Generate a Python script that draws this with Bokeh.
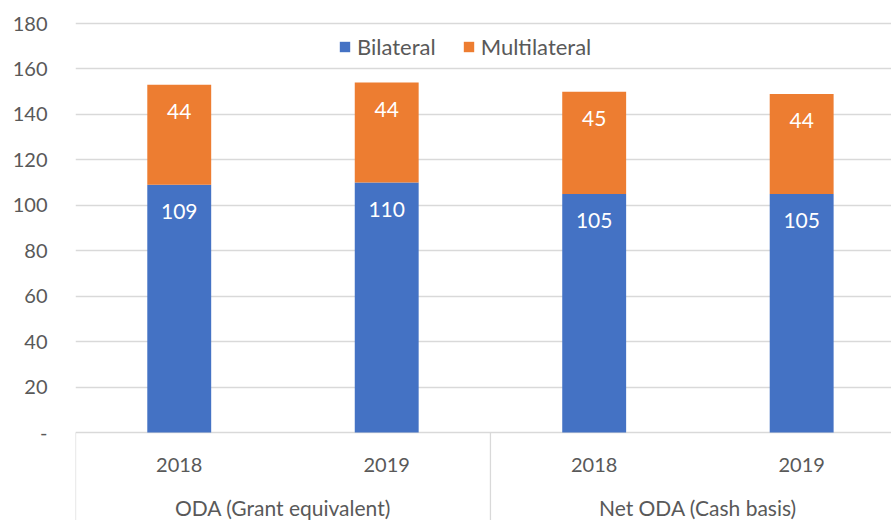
from bokeh.plotting import figure
from bokeh.models import (ColumnDataSource, Range1d, FixedTicker, Legend, LegendItem,
                          LinearAxis)
from bokeh.core.properties import value
from bokeh.embed import file_html
from bokeh.resources import INLINE

# ---- data ----
groups = ["ODA (Grant equivalent)", "Net ODA (Cash basis)"]
group_sizes = [2, 2]
years = ["2018", "2019", "2018", "2019"]
bilateral = [109, 110, 105, 105]
multilateral = [44, 44, 45, 44]
series = ["Bilateral", "Multilateral"]
colors = ["#4472C4", "#ED7D31"]
y_ticks = [0, 20, 40, 60, 80, 100, 120, 140, 160, 180]

FONT = "Lato"
TXT = "#595959"

x = [i + 0.5 for i in range(len(years))]
totals = [b + m for b, m in zip(bilateral, multilateral)]
src = ColumnDataSource(dict(x=x, Bilateral=bilateral, Multilateral=multilateral,
                            total=totals, year=years,
                            blab=[str(v) for v in bilateral],
                            mlab=[str(v) for v in multilateral]))

p = figure(width=891, height=520, output_backend="svg", toolbar_location=None,
           x_range=Range1d(0, 3.933), y_range=Range1d(-38.73, 190.13),
           min_border_left=75, min_border_right=0, min_border_top=0, min_border_bottom=0,
           x_axis_location=None, y_axis_location=None)
p.outline_line_color = None
p.background_fill_color = "white"

yaxis = LinearAxis(ticker=FixedTicker(ticks=y_ticks))
yaxis.axis_line_color = None
yaxis.major_tick_line_color = None
yaxis.minor_tick_line_color = None
yaxis.major_tick_out = 0
yaxis.major_label_standoff = 28
yaxis.major_label_text_font = FONT
yaxis.major_label_text_font_size = "20px"
yaxis.major_label_text_color = TXT
yaxis.major_label_overrides = {0: "-"}
p.add_layout(yaxis, "left")

p.xgrid.visible = False
p.ygrid.ticker = FixedTicker(ticks=y_ticks)
p.ygrid.grid_line_color = "#D9D9D9"
p.ygrid.grid_line_width = 1.3

rs = p.vbar_stack(series, x="x", width=0.308, color=colors, source=src, line_width=0)

# data labels (inside end)
p.text(x="x", y="total", text="mlab", source=src, text_color="white",
       text_font=value(FONT), text_font_size="21px", text_align="center",
       text_baseline="middle", y_offset=27)
p.text(x="x", y="Bilateral", text="blab", source=src, text_color="white",
       text_font=value(FONT), text_font_size="21px", text_align="center",
       text_baseline="middle", y_offset=27)

# category axis (drawn inside the frame below zero)
zeros = [0] * len(years)
p.text(x=x, y=zeros, text=years, text_color=TXT, text_font=value(FONT),
       text_font_size="20px", text_align="center", text_baseline="middle",
       y_offset=32)
bounds = [0]
for s in group_sizes:
    bounds.append(bounds[-1] + s)
gx = [(bounds[i] + bounds[i + 1]) / 2 for i in range(len(groups))]
p.text(x=gx, y=[0] * len(groups), text=groups, text_color=TXT, text_font=value(FONT),
       text_font_size="21px", text_align="center", text_baseline="middle",
       y_offset=75)
p.segment(x0=bounds, y0=[0] * len(bounds), x1=bounds, y1=[-100] * len(bounds),
          line_color="#D9D9D9", line_width=1.3)

legend = Legend(items=[LegendItem(label=s, renderers=[r]) for s, r in zip(series, rs)],
                orientation="horizontal", location=(263, 460))
legend.border_line_color = None
legend.background_fill_alpha = 0
legend.padding = 0
legend.margin = 0
legend.spacing = 26
legend.label_standoff = 6
legend.glyph_width = 13
legend.glyph_height = 13
legend.label_text_font = FONT
legend.label_text_font_size = "22px"
legend.label_text_color = TXT
p.add_layout(legend, "center")

open("out.html", "w").write(file_html(p, INLINE))
